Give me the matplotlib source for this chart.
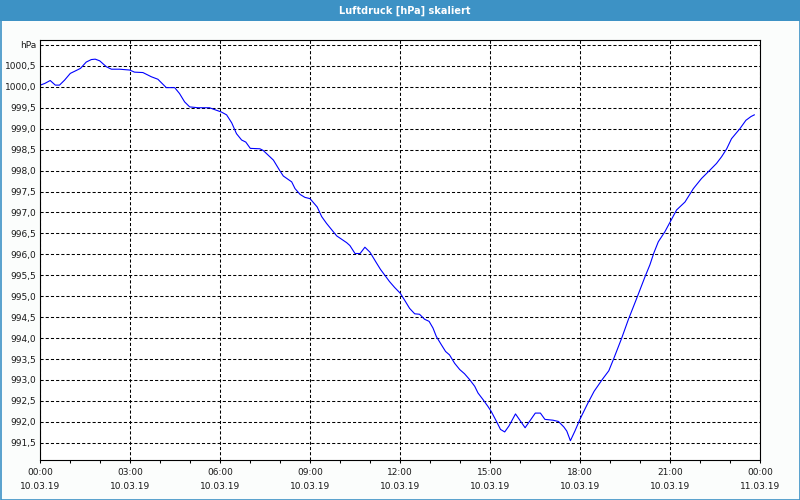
import matplotlib
matplotlib.use('Agg')
import matplotlib.pyplot as plt
from matplotlib.patches import Rectangle
from matplotlib.ticker import FixedLocator, MultipleLocator

# Stunden seit 10.03.19 00:00 und Luftdruck in hPa
hours = [0.0, 0.15, 0.33, 0.5, 0.64, 0.81, 1.0, 1.2, 1.34, 1.53, 1.7, 1.83,
         1.98, 2.2, 2.37, 2.64, 2.98, 3.14, 3.42, 3.7, 3.92, 4.06, 4.2, 4.48,
         4.64, 4.81, 4.98, 5.26, 5.64, 5.87, 6.03, 6.21, 6.38, 6.54, 6.71,
         6.85, 7.0, 7.32, 7.43, 7.77, 7.99, 8.1, 8.38, 8.49, 8.66, 8.82, 8.99,
         9.23, 9.38, 9.54, 9.88, 10.21, 10.32, 10.49, 10.66, 10.82, 10.99,
         11.21, 11.34, 11.64, 11.81, 12.0, 12.14, 12.31, 12.48, 12.64, 12.81,
         12.96, 13.09, 13.2, 13.37, 13.51, 13.64, 13.81, 13.98, 14.14, 14.31,
         14.48, 14.59, 14.76, 14.92, 15.03, 15.2, 15.34, 15.48, 15.62, 15.84,
         16.16, 16.5, 16.67, 16.82, 17.09, 17.27, 17.45, 17.55, 17.67, 17.82,
         18.0, 18.24, 18.46, 18.74, 18.95, 19.12, 19.38, 19.6, 19.88, 20.16,
         20.32, 20.45, 20.6, 20.82, 21.0, 21.21, 21.49, 21.77, 22.04, 22.32,
         22.54, 22.71, 22.88, 23.04, 23.32, 23.52, 23.69, 23.8]
pressure = [1000.04, 1000.08, 1000.15, 1000.04, 1000.04, 1000.16, 1000.32,
            1000.39, 1000.44, 1000.59, 1000.65, 1000.66, 1000.62, 1000.48,
            1000.42, 1000.42, 1000.40, 1000.35, 1000.34, 1000.24, 1000.18,
            1000.08, 999.98, 999.98, 999.84, 999.64, 999.52, 999.50, 999.50,
            999.44, 999.40, 999.33, 999.14, 998.88, 998.73, 998.68, 998.53,
            998.52, 998.48, 998.25, 997.99, 997.87, 997.73, 997.57, 997.43,
            997.36, 997.33, 997.13, 996.90, 996.74, 996.44, 996.28, 996.21,
            996.02, 996.02, 996.17, 996.05, 995.79, 995.64, 995.35, 995.21,
            995.07, 994.91, 994.71, 994.58, 994.57, 994.45, 994.40, 994.24,
            994.04, 993.84, 993.68, 993.60, 993.40, 993.25, 993.15, 993.01,
            992.85, 992.69, 992.53, 992.37, 992.25, 992.02, 991.82, 991.76,
            991.90, 992.19, 991.86, 992.21, 992.21, 992.06, 992.04, 992.01,
            991.88, 991.78, 991.55, 991.78, 992.08, 992.43, 992.73, 993.02,
            993.22, 993.52, 994.00, 994.44, 994.95, 995.47, 995.75, 996.03,
            996.30, 996.54, 996.78, 997.06, 997.25, 997.57, 997.81, 998.01,
            998.17, 998.33, 998.52, 998.76, 999.00, 999.20, 999.29, 999.33]

x_ticks = [0, 3, 6, 9, 12, 15, 18, 21, 24]
x_labels = ['00:00\n10.03.19', '03:00\n10.03.19', '06:00\n10.03.19',
            '09:00\n10.03.19', '12:00\n10.03.19', '15:00\n10.03.19',
            '18:00\n10.03.19', '21:00\n10.03.19', '00:00\n11.03.19']
y_ticks = [991.5 + 0.5 * i for i in range(20)]
y_labels = [('%.1f' % v).replace('.', ',') for v in y_ticks[:-1]] + ['hPa']

blue = '#3d92c5'
txt = '#1a1a1a'

fig = plt.figure(figsize=(8, 5), dpi=100, facecolor='#fbfdfc')

# Titelleiste und Rahmen
fig.patches.append(Rectangle((0, 1 - 20.5 / 500), 1, 20.5 / 500, transform=fig.transFigure,
                             facecolor=blue, edgecolor='none', zorder=0))
fig.patches.append(Rectangle((0.5 / 800, 0.5 / 500), 799 / 800, 499 / 500, transform=fig.transFigure,
                             facecolor='none', edgecolor=blue, lw=1.2, zorder=1))
fig.text(0.506, 1 - 11 / 500, 'Luftdruck [hPa] skaliert', color='white', fontsize=7,
         fontweight='bold', ha='center', va='center')

ax = fig.add_axes([40.3 / 800, 1 - 460 / 500, 720 / 800, 419.7 / 500])
ax.set_facecolor('white')
ax.plot(hours, pressure, color='#0000ff', lw=0.8)

ax.set_xlim(0, 24)
ax.set_ylim(991.09, 1001.11)

ax.xaxis.set_major_locator(FixedLocator(x_ticks))
ax.set_xticklabels(x_labels, fontsize=6.5, linespacing=1.75, color=txt)
ax.xaxis.set_minor_locator(MultipleLocator(1))
ax.tick_params(axis='x', which='both', direction='out', length=2.5, width=0.75, pad=3)

ax.set_yticks(y_ticks)
ax.set_yticklabels(y_labels, fontsize=6.5, color=txt)
ax.tick_params(axis='y', length=0, pad=3)

ax.grid(True, color='black', lw=0.75, linestyle=(0, (3, 2)))
for s in ax.spines.values():
    s.set_linewidth(0.8)

fig.savefig('out.png', dpi=100, facecolor=fig.get_facecolor())
